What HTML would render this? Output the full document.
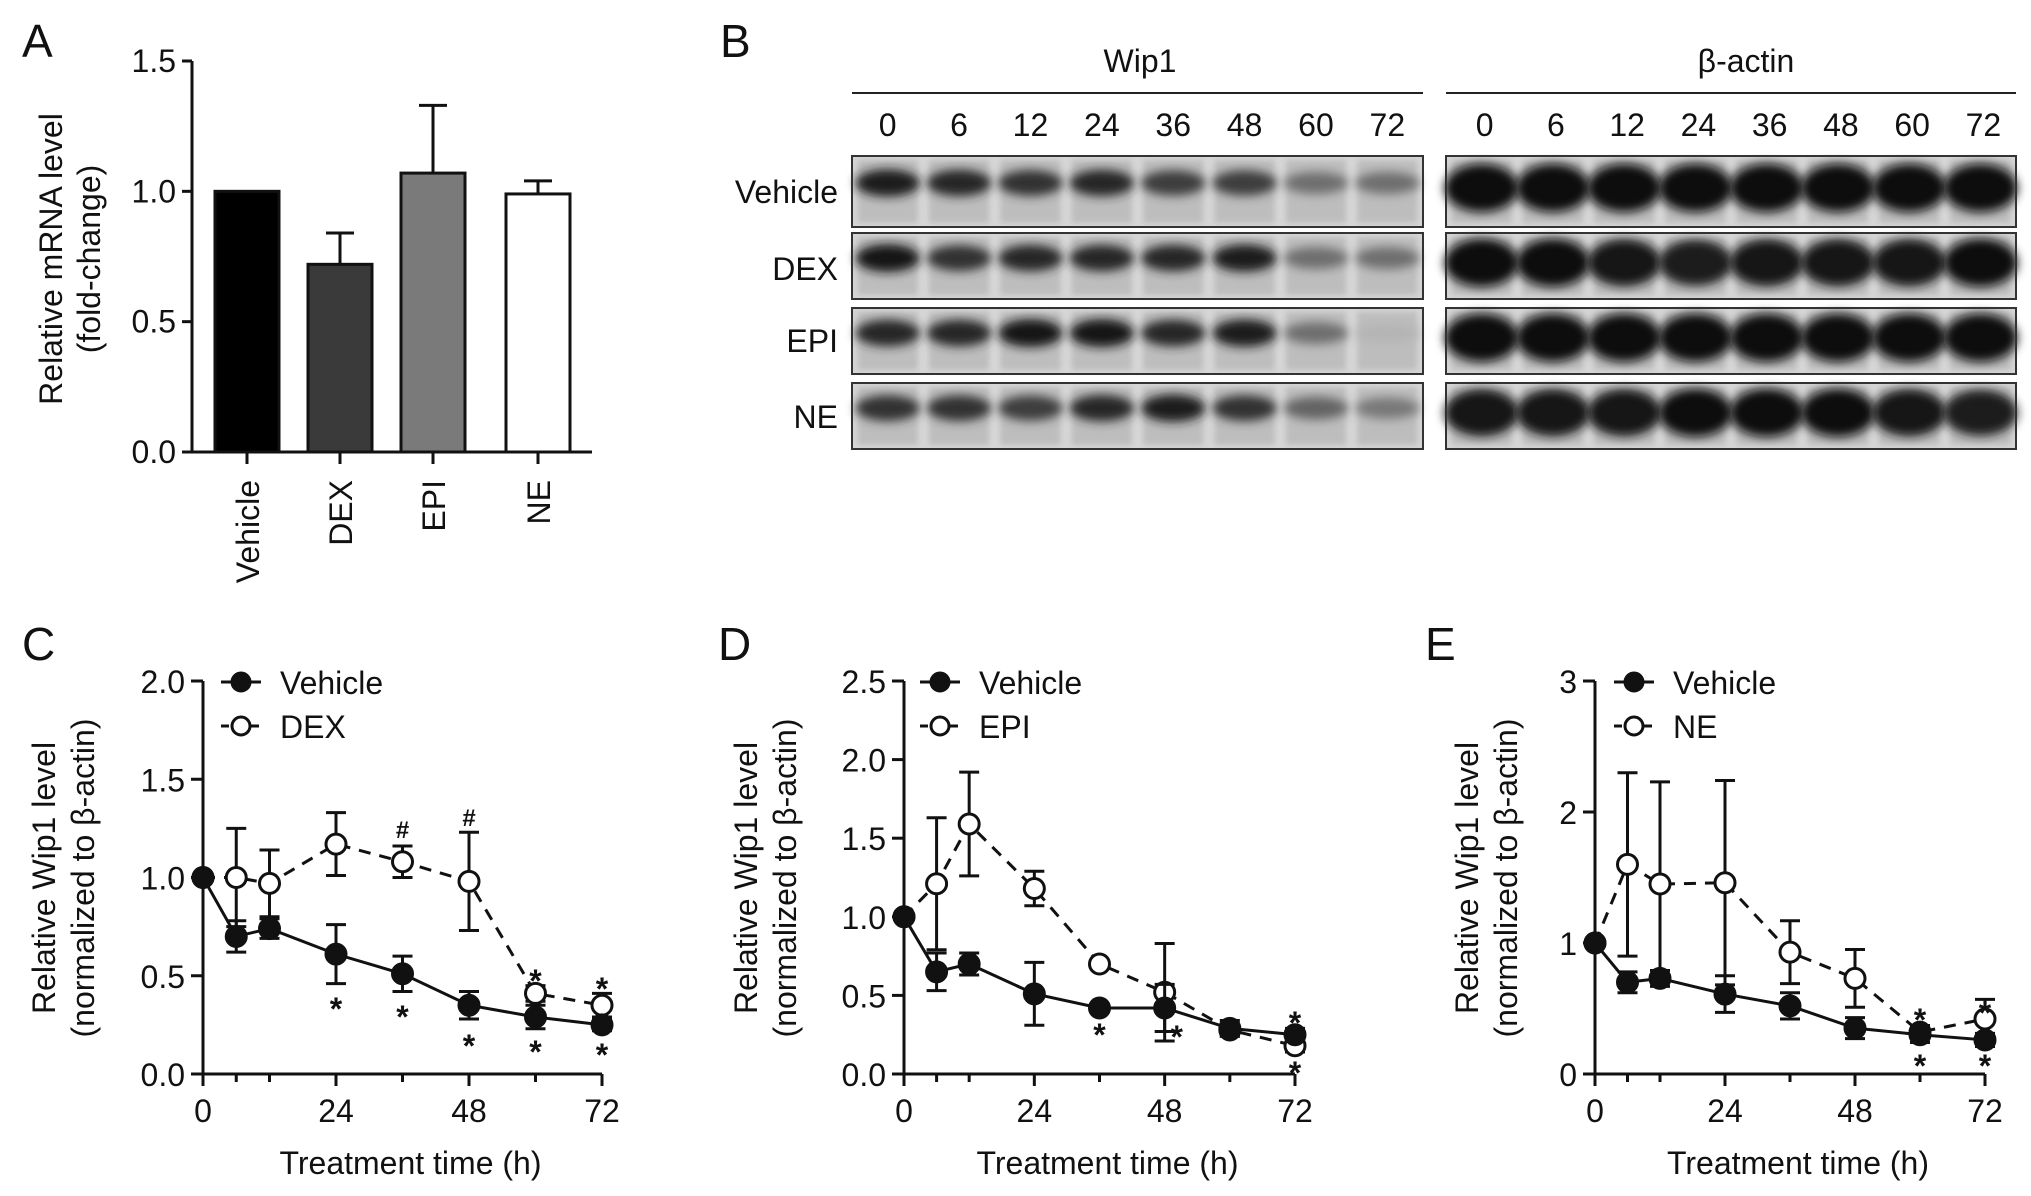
<!DOCTYPE html>
<html><head><meta charset="utf-8"><style>
html,body{margin:0;padding:0;background:#fff;}
svg{display:block;font-family:"Liberation Sans",Arial,sans-serif;}
</style></head><body>
<svg id="fig" width="2031" height="1196" viewBox="0 0 2031 1196">
<defs>
<filter id="blur" x="-20%" y="-50%" width="140%" height="200%"><feGaussianBlur stdDeviation="5"/></filter>
<filter id="blur2"><feGaussianBlur stdDeviation="3"/></filter>
</defs>
<g id="root"></g>
</svg>
<script>
// ---------- Panel A data ----------
const barCats = ["Vehicle","DEX","EPI","NE"];
const barVals = [1.0, 0.72, 1.07, 0.99];
const barErr = [0, 0.12, 0.26, 0.05];
const barTicks = ["0.0","0.5","1.0","1.5"];
const barTickVals = [0,0.5,1.0,1.5];
// ---------- Panel B blot data ----------
const lanes = ["0","6","12","24","36","48","60","72"];
const blotRows = ["Vehicle","DEX","EPI","NE"];
const wipVehicle = [0.9,0.85,0.8,0.85,0.75,0.75,0.5,0.5];
const wipDEX = [0.95,0.8,0.85,0.85,0.85,0.9,0.5,0.5];
const wipEPI = [0.85,0.85,0.95,0.95,0.85,0.9,0.5,0.15];
const wipNE = [0.8,0.8,0.75,0.85,0.9,0.8,0.55,0.45];
const actinVehicle = [1,1,1,1,1,1,1,1];
const actinDEX = [1,1,0.95,0.9,0.95,0.95,0.95,1];
const actinEPI = [1,1,1,1,1,1,1,1];
const actinNE = [0.95,0.95,0.95,1,1,1,0.95,0.9];
// ---------- Line chart data ----------
const timePoints = [0,6,12,24,36,48,60,72];
const xTicks = [0,24,48,72];
const cVehicle = [1.0,0.70,0.74,0.61,0.51,0.35,0.29,0.25];
const cVehicleErr = [0,0.08,0.05,0.15,0.09,0.07,0.06,0.03];
const cDEX = [1.0,1.0,0.97,1.17,1.08,0.98,0.41,0.35];
const cDEXErr = [0,0.25,0.17,0.16,0.08,0.25,0.04,0.06];
const dVehicle = [1.0,0.65,0.70,0.51,0.42,0.42,0.29,0.25];
const dVehicleErr = [0,0.12,0.07,0.2,0.02,0.15,0.05,0.04];
const dEPI = [1.0,1.21,1.59,1.18,0.70,0.52,0.28,0.18];
const dEPIErr = [0,0.42,0.33,0.11,0.02,0.31,0.04,0.04];
const eVehicle = [1.0,0.70,0.73,0.61,0.52,0.35,0.30,0.26];
const eVehicleErr = [0,0.08,0.06,0.14,0.1,0.08,0.06,0.05];
const eNE = [1.0,1.60,1.45,1.46,0.93,0.73,0.32,0.42];
const eNEErr = [0,0.70,0.78,0.78,0.24,0.22,0.05,0.15];
const cYTicks = ["0.0","0.5","1.0","1.5","2.0"];
const cYTickVals = [0,0.5,1,1.5,2];
const dYTicks = ["0.0","0.5","1.0","1.5","2.0","2.5"];
const dYTickVals = [0,0.5,1,1.5,2,2.5];
const eYTicks = ["0","1","2","3"];
const eYTickVals = [0,1,2,3];

const FS=32;
const NS="http://www.w3.org/2000/svg";
const root=document.getElementById('root');
function el(tag,attrs,parent,text){
  const e=document.createElementNS(NS,tag);
  for(const k in attrs)e.setAttribute(k,attrs[k]);
  if(text!==undefined)e.textContent=text;
  (parent||root).appendChild(e);return e;
}
function txt(x,y,s,size,anchor,parent,name,extra){
  const t=el('text',Object.assign({x:x,y:y,'font-size':size,'text-anchor':anchor||'middle',fill:'#111'},extra||{}),parent,s);
  
  
  return t;
}
[["A",22,57],["B",720,57],["C",22,660],["D",718,660],["E",1425,660]].forEach(p=>{
  txt(p[1],p[2],p[0],46,'start',root,'panel-label-'+p[0].toLowerCase());
});

// ---------- Panel A ----------
(function(){
  const g=el('g',{});
  
  
  const x0=192,x1=592,yb=452,yt=61,vmax=1.5;
  const y=v=>yb-(v/vmax)*(yb-yt);
  const bx=[215,308,401,506], bw=64;
  const fills=["#000","#3a3a3a","#7a7a7a","#fff"];
  barCats.forEach((c,i)=>{
    const cx=bx[i]+bw/2;
    if(barErr[i]>0){
      const l=el('line',{x1:cx,x2:cx,y1:y(barVals[i]),y2:y(barVals[i]+barErr[i]),stroke:'#111','stroke-width':3},g);
      
      
      el('line',{x1:cx-14,x2:cx+14,y1:y(barVals[i]+barErr[i]),y2:y(barVals[i]+barErr[i]),stroke:'#111','stroke-width':3},g);
    }
    const r=el('rect',{x:bx[i],y:y(barVals[i]),width:bw,height:yb-y(barVals[i]),fill:fills[i],stroke:'#111','stroke-width':3},g);
    
    
    el('line',{x1:cx,x2:cx,y1:yb,y2:yb+12,stroke:'#111','stroke-width':3},g);
    txt(0,0,c,FS,'end',g,'x-label-'+c.toLowerCase(),{transform:`translate(${cx+12},${yb+28}) rotate(-90)`});
  });
  el('line',{x1:x0,x2:x0,y1:yt,y2:yb,stroke:'#111','stroke-width':3},g);
  el('line',{x1:x0-10,x2:x1,y1:yb,y2:yb,stroke:'#111','stroke-width':3},g);
  barTickVals.forEach((v,i)=>{
    el('line',{x1:x0-10,x2:x0,y1:y(v),y2:y(v),stroke:'#111','stroke-width':3},g);
    txt(x0-16,y(v)+11,barTicks[i],FS,'end',g,'y-tick-label');
  });
  txt(0,0,"Relative mRNA level",FS,'middle',g,'y-axis-title-line1',{transform:'translate(62,259) rotate(-90)'});
  txt(0,0,"(fold-change)",FS,'middle',g,'y-axis-title-line2',{transform:'translate(100,259) rotate(-90)'});
})();

// ---------- Panel B ----------
(function(){
  const g=el('g',{});
  
  
  const boxes=[{x:852,w:571,name:'Wip1',cx:1140},{x:1446,w:570,name:'β-actin',cx:1746}];
  const rowsY=[[156,71],[233,66],[308,66],[383,66]];
  const wipData=[wipVehicle,wipDEX,wipEPI,wipNE];
  const actData=[actinVehicle,actinDEX,actinEPI,actinNE];
  boxes.forEach((b,bi)=>{
    txt(b.cx,72,b.name,FS,'middle',g,'blot-header-'+(bi?'actin':'wip1'));
    el('line',{x1:b.x,x2:b.x+b.w,y1:93,y2:93,stroke:'#222','stroke-width':2},g);
    const step=b.w/8;
    lanes.forEach((l,li)=>txt(b.x+step*(li+0.5)+(bi?3:0),136,l,FS,'middle',g,'lane-label'));
    rowsY.forEach((r,ri)=>{
      const cg=el('g',{},g);
      
      
      el('rect',{x:b.x,y:r[0],width:b.w,height:r[1],fill:'#d6d6d6'},cg);
      const data=bi?actData[ri]:wipData[ri];
      data.forEach((v,li)=>{
        const cx=b.x+step*(li+0.5);
        el('rect',{x:cx-step*0.42,y:r[0]+4,width:step*0.84,height:r[1]-8,fill:'#bdbdbd',filter:'url(#blur2)'},cg);
        const g2=Math.round(210-200*v);
        const bh=bi?22:13;
        el('ellipse',{cx:cx,cy:r[0]+r[1]*(bi?0.45:0.38),rx:step*(bi?0.52:0.45),ry:bh*(0.6+0.5*v),fill:`rgb(${g2},${g2},${g2})`,filter:'url(#blur)'},cg);
      });
      el('rect',{x:b.x,y:r[0],width:b.w,height:r[1],fill:'none',stroke:'#333','stroke-width':2},cg);
    });
  });
  const ly=[203,280,352,428];
  blotRows.forEach((n,i)=>txt(838,ly[i],n,FS,'end',g,'row-label-'+n.toLowerCase()));
})();

// ---------- Line charts ----------
function lineChart(o){
  const g=el('g',{});
  
  
  const X=t=>o.x0+(t/72)*(o.x1-o.x0);
  const Y=v=>o.yb-(v/o.vmax)*(o.yb-o.yt);
  el('line',{x1:o.x0,x2:o.x0,y1:o.yt,y2:o.yb,stroke:'#111','stroke-width':3},g);
  el('line',{x1:o.x0-12,x2:o.x1,y1:o.yb,y2:o.yb,stroke:'#111','stroke-width':3},g);
  o.yTickVals.forEach((v,i)=>{
    el('line',{x1:o.x0-12,x2:o.x0,y1:Y(v),y2:Y(v),stroke:'#111','stroke-width':3},g);
    txt(o.x0-18,Y(v)+12,o.yTicks[i],FS,'end',g,'y-tick-label');
  });
  timePoints.forEach(t=>el('line',{x1:X(t),x2:X(t),y1:o.yb,y2:o.yb+(xTicks.includes(t)?12:8),stroke:'#111','stroke-width':3},g));
  xTicks.forEach(t=>txt(X(t),o.yb+48,String(t),FS,'middle',g,'x-tick-label'));
  txt((o.x0+o.x1)/2+8,o.yb+100,"Treatment time (h)",FS,'middle',g,'x-axis-title');
  txt(0,0,"Relative Wip1 level",FS,'middle',g,'y-axis-title-line1',{transform:`translate(${o.ytx},${o.ytY}) rotate(-90)`});
  txt(0,0,"(normalized to β-actin)",FS,'middle',g,'y-axis-title-line2',{transform:`translate(${o.ytx+39},${o.ytY}) rotate(-90)`});
  const series=[[o.s2,o.e2,true,o.n2],[o.s1,o.e1,false,'Vehicle']];
  series.forEach(([s,e,open,nm])=>{
    const sg=el('g',{},g);
    
    
    s.forEach((v,i)=>{ if(e[i]>0){
      const cx=X(timePoints[i]);
      el('line',{x1:cx,x2:cx,y1:Y(v-e[i]),y2:Y(v+e[i]),stroke:'#111','stroke-width':3},sg);
      el('line',{x1:cx-10,x2:cx+10,y1:Y(v+e[i]),y2:Y(v+e[i]),stroke:'#111','stroke-width':3},sg);
      el('line',{x1:cx-10,x2:cx+10,y1:Y(v-e[i]),y2:Y(v-e[i]),stroke:'#111','stroke-width':3},sg);
    }});
    el('polyline',{points:s.map((v,i)=>X(timePoints[i])+','+Y(v)).join(' '),fill:'none',stroke:'#111','stroke-width':3,'stroke-dasharray':open?'12,9':'none'},sg);
    s.forEach((v,i)=>{
      const c=el('circle',{cx:X(timePoints[i]),cy:Y(v),r:10,fill:open&&i>0?'#fff':'#111',stroke:'#111','stroke-width':3},sg);
      
      
    });
  });
  o.ann.forEach(a=>txt(X(a[0])+(a[3]||0),a[1],a[2],a[2]==='#'?24:32,'middle',g,a[2]==='#'?'hash-annotation':'significance-star',{'font-weight':'bold'}));
  const lg=el('g',{},g);
  
  
  [[o.ly,false,'Vehicle'],[o.ly+44,true,o.n2]].forEach(([ly,open,nm])=>{
    el('line',{x1:o.lx-20,x2:o.lx+20,y1:ly,y2:ly,stroke:'#111','stroke-width':3,'stroke-dasharray':open?'8,7':'none'},lg);
    el('circle',{cx:o.lx,cy:ly,r:9,fill:open?'#fff':'#111',stroke:'#111','stroke-width':3},lg);
    txt(o.lx+39,ly+12,nm,FS,'start',lg,'legend-entry-'+nm.toLowerCase());
  });
}
lineChart({name:'panel-c-dex-chart',x0:203,x1:602,yt:681,yb:1074,vmax:2,yTicks:cYTicks,yTickVals:cYTickVals,
  s1:cVehicle,e1:cVehicleErr,s2:cDEX,e2:cDEXErr,n2:'DEX',ytx:55,ytY:878,lx:241,ly:682,
  ann:[[24,1020,'*'],[36,1028,'*'],[48,1057,'*'],[60,1063,'*'],[72,1066,'*'],[60,992,'*'],[72,1000,'*'],[36,838,'#'],[48,826,'#']]});
lineChart({name:'panel-d-epi-chart',x0:904,x1:1295,yt:681,yb:1074,vmax:2.5,yTicks:dYTicks,yTickVals:dYTickVals,
  s1:dVehicle,e1:dVehicleErr,s2:dEPI,e2:dEPIErr,n2:'EPI',ytx:757,ytY:878,lx:940,ly:682,
  ann:[[36,1046,'*'],[48,1048,'*',12],[72,1034,'*'],[72,1084,'*']]});
lineChart({name:'panel-e-ne-chart',x0:1595,x1:1985,yt:681,yb:1074,vmax:3,yTicks:eYTicks,yTickVals:eYTickVals,
  s1:eVehicle,e1:eVehicleErr,s2:eNE,e2:eNEErr,n2:'NE',ytx:1478,ytY:878,lx:1634,ly:682,
  ann:[[60,1031,'*'],[60,1077,'*'],[72,1024,'*'],[72,1077,'*']]});
</script>
</body></html>
